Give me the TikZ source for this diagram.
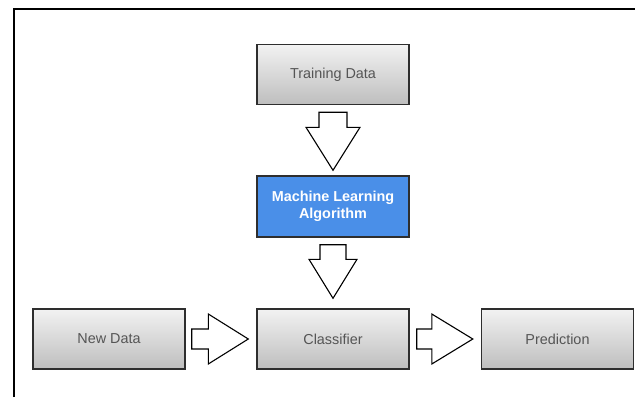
\documentclass[tikz,border=0pt]{standalone}
\usepackage{fontspec}
\setmainfont{Liberation Sans}
\usetikzlibrary{calc}
\definecolor{boxtop}{HTML}{F2F2F2}
\definecolor{boxbot}{HTML}{BEBEBE}
\definecolor{boxline}{HTML}{2E2E2E}
\definecolor{txtgray}{HTML}{555555}
\definecolor{mlblue}{HTML}{4A8FE8}
\newcommand\blockarr[5]{%
  \coordinate (ba-h) at ($(#2)!#5!(#1)$);
  \draw[barrow] ($(#1)!#3!90:(#2)$) -- ($(ba-h)!#3!90:(#2)$) -- ($(ba-h)!#4!90:(#2)$) -- (#2)
    -- ($(ba-h)!#4!-90:(#2)$) -- ($(ba-h)!#3!-90:(#2)$) -- ($(#1)!#3!-90:(#2)$) -- cycle;}
\begin{document}
\begin{tikzpicture}[x=1pt,y=-1pt,
  graybox/.style={draw=boxline, line width=1.4pt, top color=boxtop, bottom color=boxbot,
    minimum width=152pt, minimum height=60pt, inner sep=0pt, text=txtgray,
    font=\fontsize{14.4}{17}\selectfont},
  bluebox/.style={draw=boxline, line width=1.4pt, fill=mlblue,
    minimum width=152pt, minimum height=61pt, inner sep=0pt, text=white, align=center,
    font=\bfseries\fontsize{14.4}{17}\selectfont},
  barrow/.style={draw=black, line width=1.1pt, fill=white, line join=miter}]
\useasboundingbox[fill=white] (0,0) rectangle (635,397);
\draw[line width=2pt] (14,397) -- (14,9) -- (635,9);

\node[graybox] (td) at (333,74.5) {Training Data};
\node[bluebox] (ml) at (333,206.5) {Machine Learning\\Algorithm};
\node[graybox] (cl) at (333,339) {Classifier};
\node[graybox] (nd) at (109,339) {New Data};
\node[graybox] (pr) at (557.5,339) {Prediction};

\coordinate (a1s) at ($(td.south)+(0,7)$);
\coordinate (a1e) at ($(ml.north)+(0,-5)$);
\coordinate (a2s) at ($(ml.south)+(0,7)$);
\coordinate (a2e) at ($(cl.north)+(0,-10)$);
\coordinate (a3s) at ($(nd.east)+(6,0)$);
\coordinate (a3e) at ($(cl.west)+(-8,0)$);
\coordinate (a4s) at ($(cl.east)+(7,0)$);
\coordinate (a4e) at ($(pr.west)+(-8,0)$);

\blockarr{a1s}{a1e}{14pt}{27pt}{43pt}
\blockarr{a2s}{a2e}{13pt}{24pt}{39pt}
\blockarr{a3s}{a3e}{10pt}{25pt}{40pt}
\blockarr{a4s}{a4e}{10pt}{25pt}{41pt}
\end{tikzpicture}
\end{document}
